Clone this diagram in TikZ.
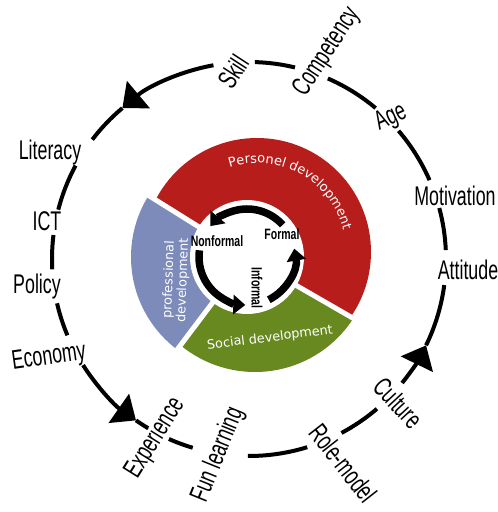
\documentclass[tikz,border=0pt]{standalone}
\usepackage{fontspec}
\usepackage{graphicx}
\setmainfont{Liberation Sans}
\newfontfamily\verd{DejaVu Sans}
\usetikzlibrary{arrows.meta,decorations.text}
\definecolor{segred}{RGB}{183,30,27}
\definecolor{segblue}{RGB}{124,139,186}
\definecolor{seggreen}{RGB}{104,136,32}
\newcommand{\outerlab}[1]{\scalebox{0.66}[1]{\fontsize{27}{30}\selectfont #1}}
\newcommand{\innerlab}[1]{\scalebox{0.7}[1]{\fontsize{15}{17}\selectfont\bfseries #1}}
\begin{document}
\begin{tikzpicture}[x=1pt,y=1pt,
  ring/.style={line width=4pt,black},
  bigtip/.style={-{Triangle[length=21pt,width=35pt]}},
  cyc/.style={line width=7.5pt,black,-{Triangle[length=12pt,width=19pt]}},
  olab/.style={inner sep=0pt,text=black},
  ilab/.style={inner sep=0pt,text=black},
  wlab/.style={inner sep=0pt,text=white,font=\verd\fontsize{12.8}{14}\selectfont,align=center}]
\useasboundingbox (0,0) rectangle (498,512);
\coordinate (C) at (249,253);
\coordinate (I) at (247,255);
\coordinate (Rc) at (257,260);
\coordinate (Gc) at (255,257);

% ---- sectors ----
\begin{scope}
\clip (I) -- ++(-30:200) arc[start angle=-30,end angle=148,radius=200] -- cycle;
\fill[segred] (Rc) circle[radius=114];
\end{scope}
\begin{scope}
\clip (I) -- ++(148:200) arc[start angle=148,end angle=233,radius=200] -- cycle;
\fill[segblue] (I) circle[radius=116];
\end{scope}
\begin{scope}
\clip (I) -- ++(233:200) arc[start angle=233,end angle=330,radius=200] -- cycle;
\fill[seggreen] (Gc) circle[radius=117];
\end{scope}
\foreach \a in {148,233,330} \draw[white,line width=5pt] (I) -- ++(\a:135);
\fill[white] (I) circle[radius=57];

% ---- sector texts ----
\path[decorate,decoration={text along path,text align=center,text color=white,
  text={|\verd\fontsize{13}{15}\selectfont|Personel development}}]
  ([shift={(Rc)}]123:89) arc[start angle=123,end angle=-1,radius=89];
\node[wlab,rotate=88] (prof) at (176,232) {professional\\development};
\node[wlab,rotate=7] (soc) at (270,174) {Social development};

% ---- inner cycle ----
\draw[cyc] ([shift={(I)}]42:48) arc[start angle=42,end angle=140,radius=48];
\draw[cyc] ([shift={(I)}]172:48) arc[start angle=172,end angle=268,radius=48];
\draw[cyc] ([shift={(I)}]297:48) arc[start angle=297,end angle=370,radius=48];
\node[ilab] (nonformal) at (217,271) {\innerlab{Nonformal}};
\node[ilab] (formal) at (282,278) {\innerlab{Formal}};
\node[ilab,rotate=-90] (informal) at (257,224) {\innerlab{Informal}};

% ---- outer ring ----
\draw[ring,bigtip] ([shift={(C)}]100.4:197) arc[start angle=100.4,end angle=130,radius=197];
\draw[ring] ([shift={(C)}]130:197) arc[start angle=130,end angle=142.7,radius=197];
\draw[ring] ([shift={(C)}]88.3:197) arc[start angle=88.3,end angle=76.5,radius=197];
\draw[ring] ([shift={(C)}]66.4:197) arc[start angle=66.4,end angle=50,radius=197];
\draw[ring] ([shift={(C)}]40.6:197) arc[start angle=40.6,end angle=23.6,radius=197];
\draw[ring] ([shift={(C)}]15:197) arc[start angle=15,end angle=2.6,radius=197];
\draw[ring,bigtip] ([shift={(C)}]-39:197) arc[start angle=-39,end angle=-26,radius=197];
\draw[ring] ([shift={(C)}]-26:197) arc[start angle=-26,end angle=-7.6,radius=197];
\draw[ring] ([shift={(C)}]-49.5:197) arc[start angle=-49.5,end angle=-62,radius=197];
\draw[ring] ([shift={(C)}]-72.8:197) arc[start angle=-72.8,end angle=-90.3,radius=197];
\draw[ring] ([shift={(C)}]246:197) arc[start angle=246,end angle=253.4,radius=197];
\draw[ring,bigtip] ([shift={(C)}]212.6:197) arc[start angle=212.6,end angle=235,radius=197];
\draw[ring] ([shift={(C)}]235:197) arc[start angle=235,end angle=239.2,radius=197];
\draw[ring] ([shift={(C)}]202.8:197) arc[start angle=202.8,end angle=193,radius=197];
\draw[ring] ([shift={(C)}]183:197) arc[start angle=183,end angle=173,radius=197];
\draw[ring] ([shift={(C)}]165.5:197) arc[start angle=165.5,end angle=151.7,radius=197];

% ---- outer labels ----
\node[olab,rotate=57] (skill) at (233,440) {\outerlab{Skill}};
\node[olab,rotate=57] (competency) at (327,460) {\outerlab{Competency}};
\node[olab,rotate=25] (age) at (391,394) {\outerlab{Age}};
\node[olab] (motivation) at (455,316) {\outerlab{Motivation}};
\node[olab] (attitude) at (468,242) {\outerlab{Attitude}};
\node[olab,rotate=-47] (culture) at (398,109) {\outerlab{Culture}};
\node[olab,rotate=-52] (rolemodel) at (343,49) {\outerlab{Role-model}};
\node[olab,rotate=68] (funlearning) at (218,57) {\outerlab{Fun learning}};
\node[olab,rotate=58] (experience) at (155,74) {\outerlab{Experience}};
\node[olab,rotate=8] (economy) at (49,154) {\outerlab{Economy}};
\node[olab] (policy) at (37,225.5) {\outerlab{Policy}};
\node[olab] (ict) at (47,290.5) {\outerlab{ICT}};
\node[olab] (literacy) at (50,359.5) {\outerlab{Literacy}};
\end{tikzpicture}
\end{document}
